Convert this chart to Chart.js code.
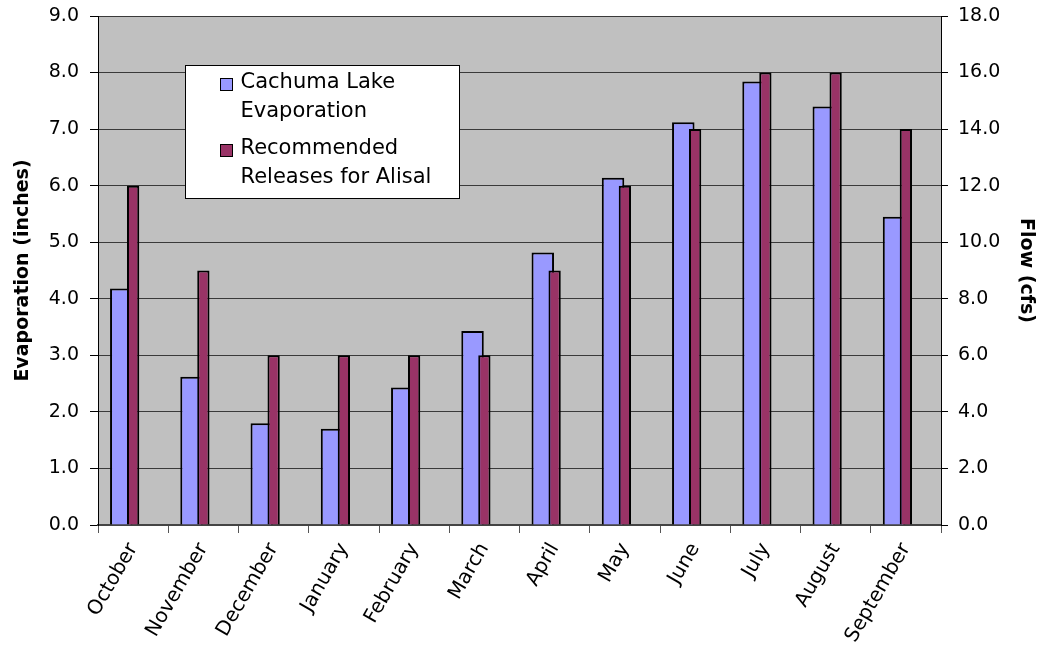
<!DOCTYPE html>
<html>
<head>
<meta charset="utf-8">
<script src="https://cdn.jsdelivr.net/npm/chart.js@4.4.0/dist/chart.umd.min.js"></script>
<style>
  body { margin: 0; background: #fff; }
  #wrap { width: 1042px; height: 652px; }
</style>
</head>
<body>
<div id="wrap"><canvas id="chart" width="1042" height="652"></canvas></div>
<script>
const months = ["October", "November", "December", "January", "February", "March",
  "April", "May", "June", "July", "August", "September"];
const evaporation = [4.18, 2.62, 1.80, 1.70, 2.43, 3.43, 4.82, 6.14, 7.12, 7.84, 7.40, 5.45];
const releases = [12, 9, 6, 6, 6, 6, 9, 12, 14, 16, 16, 14];
const evapTicks = [0, 1, 2, 3, 4, 5, 6, 7, 8, 9];
const flowTicks = [0, 2, 4, 6, 8, 10, 12, 14, 16, 18];
const legendLines = [["Cachuma Lake", "Evaporation"], ["Recommended", "Releases for Alisal"]];

Chart.defaults.font.family = "'DejaVu Sans', sans-serif";
Chart.defaults.font.size = 19;
Chart.defaults.color = "#000";

// grey plot area like the old excel charts
const plotBg = {
  id: "plotBg",
  beforeDraw(chart) {
    const { ctx, chartArea: a } = chart;
    ctx.save();
    ctx.fillStyle = "#fff";
    ctx.fillRect(0, 0, chart.width, chart.height);
    ctx.fillStyle = "#c0c0c0";
    ctx.fillRect(a.left, a.top, a.right - a.left, a.bottom - a.top);
    ctx.restore();
  }
};

// legend box inside the plot, labels on two lines
const boxLegend = {
  id: "boxLegend",
  afterDraw(chart) {
    const { ctx, chartArea } = chart;
    const x = Math.round(chartArea.left + 87) + 0.5;
    const y = Math.round(chartArea.top + 49) + 0.5;
    ctx.save();
    ctx.fillStyle = "#fff";
    ctx.fillRect(x, y, 274, 133);
    ctx.strokeStyle = "#000";
    ctx.lineWidth = 1;
    ctx.strokeRect(x, y, 274, 133);
    ctx.font = "21px 'DejaVu Sans', sans-serif";
    ctx.textBaseline = "middle";
    legendLines.forEach((lines, i) => {
      const ds = chart.data.datasets[i];
      const top = y + 17 + i * 66;
      ctx.fillStyle = ds.backgroundColor;
      ctx.fillRect(x + 35, top - 4, 12, 12);
      ctx.strokeRect(x + 35, top - 4, 12, 12);
      ctx.fillStyle = "#000";
      lines.forEach((t, j) => ctx.fillText(t, x + 55, top + j * 29));
    });
    ctx.restore();
  }
};

new Chart(document.getElementById("chart"), {
  type: "bar",
  data: {
    labels: months,
    datasets: [
      {
        label: legendLines[0].join(" "),
        data: evaporation,
        yAxisID: "y",
        backgroundColor: "#9999ff",
        borderColor: "#000",
        borderWidth: 2,
        order: 1,
        categoryPercentage: 0.674,
        barPercentage: 0.95
      },
      {
        label: legendLines[1].join(" "),
        data: releases,
        yAxisID: "y2",
        backgroundColor: "#993366",
        borderColor: "#000",
        borderWidth: 2,
        order: 0,
        grouped: false,
        categoryPercentage: 1,
        barPercentage: 0.175
      },
      {
        // empty slot so the blue bars sit left of centre
        label: "",
        data: [],
        yAxisID: "y",
        order: 1,
        categoryPercentage: 0.674,
        barPercentage: 0.95
      }
    ]
  },
  options: {
    responsive: false,
    animation: false,
    layout: { padding: { top: 16 } },
    plugins: { legend: { display: false }, tooltip: { enabled: false } },
    scales: {
      x: {
        offset: true,
        grid: { drawOnChartArea: false, offset: true, tickLength: 8, tickColor: "#555" },
        border: { color: "#444", width: 2 },
        ticks: { minRotation: 60, maxRotation: 60, autoSkip: false, padding: 6, font: { size: 20 } },
        afterFit(s) { s.height = 127; }
      },
      y: {
        position: "left",
        min: 0,
        max: 9,
        afterBuildTicks(s) { s.ticks = evapTicks.map(v => ({ value: v })); },
        ticks: { callback: v => v.toFixed(1), padding: 11 },
        grid: { color: "#3a3a3a", tickColor: "#000", tickLength: 8 },
        border: { color: "#000" },
        title: {
          display: true,
          text: "Evaporation (inches)",
          font: { size: 19, weight: "bold" },
          padding: { top: 12, bottom: 0 }
        },
        afterFit(s) { s.width = 98; s.paddingTop = 0; s.paddingBottom = 0; }
      },
      y2: {
        position: "right",
        min: 0,
        max: 18,
        afterBuildTicks(s) { s.ticks = flowTicks.map(v => ({ value: v })); },
        ticks: { callback: v => v.toFixed(1), padding: 10 },
        grid: { drawOnChartArea: false, tickColor: "#000", tickLength: 7 },
        border: { color: "#000" },
        title: {
          display: true,
          text: "Flow (cfs)",
          font: { size: 19, weight: "bold" },
          padding: { top: 5, bottom: 0 }
        },
        afterFit(s) { s.width = 101; s.paddingTop = 0; s.paddingBottom = 0; }
      }
    }
  },
  plugins: [plotBg, boxLegend]
});
</script>
</body>
</html>
